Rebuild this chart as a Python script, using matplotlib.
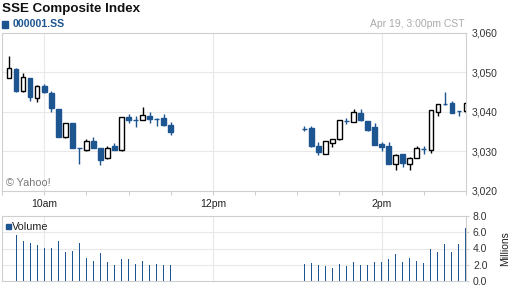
import numpy as np
import pandas as pd
import matplotlib
matplotlib.use("Agg")
import matplotlib.pyplot as plt
from matplotlib.patches import Rectangle

plt.rcParams['font.family'] = ['Liberation Sans', 'DejaVu Sans']

# Velas de 5 minutos: apertura, maximo, minimo, cierre
# Sesion de la manana (9:35 - 11:30)
am_open  = [3048.5, 3051.0, 3045.4, 3048.5, 3043.5, 3046.5, 3044.8, 3040.8, 3033.75, 3037.3, 3031.0, 3030.4,
            3032.75, 3030.8, 3028.3, 3031.4, 3030.4, 3038.8, 3038.1, 3038.0, 3039.0, 3038.25, 3038.6, 3036.8]
am_high  = [3054.3, 3051.25, 3049.8, 3048.5, 3046.9, 3047.1, 3045.25, 3040.8, 3037.3, 3037.3, 3031.0, 3033.1,
            3033.6, 3030.8, 3031.4, 3032.1, 3038.75, 3039.6, 3039.0, 3041.25, 3040.0, 3038.6, 3039.5, 3037.5]
am_low   = [3048.5, 3045.0, 3045.0, 3042.9, 3042.5, 3044.8, 3040.0, 3033.75, 3033.5, 3031.0, 3026.8, 3030.25,
            3030.8, 3026.5, 3028.2, 3030.4, 3030.25, 3037.1, 3036.2, 3038.0, 3037.25, 3036.4, 3036.5, 3034.3]
am_close = [3051.25, 3045.4, 3048.75, 3043.75, 3046.7, 3045.0, 3041.0, 3033.75, 3037.3, 3031.0, 3031.0, 3032.75,
            3031.0, 3027.9, 3031.0, 3030.4, 3038.75, 3037.9, 3038.1, 3039.3, 3038.2, 3038.25, 3036.7, 3035.0]

# Sesion de la tarde (13:05 - 15:00)
pm_open  = [3035.8, 3036.0, 3031.5, 3029.4, 3032.25, 3033.1, 3037.75, 3037.5, 3039.75, 3037.7, 3036.25, 3032.0,
            3031.5, 3026.9, 3029.25, 3026.9, 3028.25, 3030.7, 3030.4, 3040.0, 3042.0, 3042.25, 3040.3, 3040.25]
pm_high  = [3036.4, 3036.4, 3032.5, 3032.75, 3033.25, 3038.0, 3038.6, 3040.75, 3040.75, 3037.7, 3037.25, 3032.5,
            3032.5, 3029.4, 3029.4, 3028.6, 3031.4, 3031.4, 3040.5, 3042.0, 3045.0, 3042.9, 3040.3, 3042.5]
pm_low   = [3035.25, 3031.25, 3029.0, 3029.25, 3031.25, 3033.0, 3036.9, 3037.5, 3037.75, 3035.25, 3031.7, 3030.25,
            3026.9, 3025.2, 3026.2, 3025.2, 3028.25, 3029.25, 3029.5, 3039.0, 3041.8, 3039.75, 3039.0, 3039.8]
pm_close = [3035.8, 3031.5, 3029.75, 3032.75, 3033.25, 3038.0, 3037.75, 3040.0, 3037.9, 3035.5, 3031.7, 3031.25,
            3026.9, 3029.2, 3027.2, 3028.3, 3030.9, 3030.7, 3040.5, 3042.0, 3042.0, 3039.75, 3040.3, 3042.25]

# Volumen (millones); la primera vela de la manana no tiene barra
am_vol = [np.nan, 5.7, 4.96, 4.72, 4.47, 4.11, 4.11, 4.96, 3.62, 3.74, 4.72, 2.77, 2.52,
          3.5, 2.4, 1.91, 2.65, 2.65, 2.04, 2.52, 1.91, 2.04, 1.91, 1.91]
pm_vol = [2.04, 2.16, 1.91, 1.79, 1.55, 2.04, 1.79, 2.28, 1.91, 1.91, 2.4, 2.4,
          2.65, 3.38, 2.4, 2.89, 2.52, 2.16, 3.99, 3.62, 4.6, 3.62, 4.6, 6.55]

# Horas de cada vela (en horas decimales)
am_t = pd.date_range('2013-04-19 09:35', '2013-04-19 11:30', freq='5min')
pm_t = pd.date_range('2013-04-19 13:05', '2013-04-19 15:00', freq='5min')
horas = np.concatenate([am_t.hour + am_t.minute / 60, pm_t.hour + pm_t.minute / 60])

o = np.array(am_open + pm_open)
h = np.array(am_high + pm_high)
l = np.array(am_low + pm_low)
c = np.array(am_close + pm_close)
vol = np.array(am_vol + pm_vol)

azul = '#1d5591'
gris_borde = '#cfcfcf'
gris_rejilla = '#e8e8e8'

fig = plt.figure(figsize=(5.12, 2.88), dpi=100)
ax = fig.add_axes([2 / 512, 1 - 191 / 288, 464 / 512, 158 / 288])
axv = fig.add_axes([2 / 512, 1 - 281 / 288, 464 / 512, 65 / 288])

ancho = 0.055
sube = c > o
baja = ~sube
# mechas
ax.vlines(horas[sube], l[sube], h[sube], color='black', lw=1, zorder=2)
ax.vlines(horas[baja], l[baja], h[baja], color=azul, lw=1, zorder=2)
# cuerpos
ax.bar(horas[sube], c[sube] - o[sube], bottom=o[sube], width=ancho,
       color='white', edgecolor='black', lw=1, zorder=3)
ax.bar(horas[baja], c[baja] - o[baja], bottom=o[baja], width=ancho,
       color=azul, edgecolor=azul, lw=1, zorder=3)

for a in (ax, axv):
    a.set_xlim(9.5, 15)
    for s in a.spines.values():
        s.set_color(gris_borde)
        s.set_linewidth(0.8)
    for xg in (10, 12, 14):
        a.axvline(xg, color=gris_rejilla, lw=0.8, zorder=0)

ax.set_ylim(3020, 3060)
for yg in (3030, 3040, 3050):
    ax.axhline(yg, color=gris_rejilla, lw=0.8, zorder=0)
ax.yaxis.tick_right()
ax.set_yticks([3020, 3030, 3040, 3050, 3060])
ax.set_yticklabels(['3,020', '3,030', '3,040', '3,050', '3,060'])
ax.tick_params(axis='y', length=0, pad=4, labelsize=7.5, labelcolor='#333333')
marcas = np.arange(9.5, 15.01, 0.5)
nombres = {10: '10am', 12: '12pm', 14: '2pm'}
ax.set_xticks(marcas)
ax.set_xticklabels([nombres.get(t, '') for t in marcas])
ax.tick_params(axis='x', length=3, color=gris_borde, pad=3, labelsize=7.5, labelcolor='#222222')

# volumen
axv.bar(horas, vol, width=0.012, color=azul, zorder=2)
axv.set_ylim(0, 8)
for yg in (2, 4, 6):
    axv.axhline(yg, color=gris_rejilla, lw=0.8, zorder=0)
axv.yaxis.tick_right()
axv.set_yticks([0, 2, 4, 6, 8])
axv.set_yticklabels(['0.0', '2.0', '4.0', '6.0', '8.0'])
axv.tick_params(axis='y', length=2, color=gris_borde, pad=3, labelsize=7.5, labelcolor='#333333')
axv.set_xticks([])
axv.set_ylabel('Millions', fontsize=7.5, color='#222222', labelpad=9)
axv.yaxis.set_label_position('right')

# textos
fig.text(2 / 512, 1 - 9 / 288, 'SSE Composite Index', fontsize=9.6, fontweight='bold',
         color='#111111', va='center', ha='left')
fig.patches.append(Rectangle((2 / 512, 1 - 27.5 / 288), 6 / 512, 6 / 288,
                             transform=fig.transFigure, color=azul))
fig.text(12.5 / 512, 1 - 24 / 288, '000001.SS', fontsize=7.6, fontweight='bold',
         color=azul, va='center', ha='left')
fig.text(465 / 512, 1 - 24 / 288, 'Apr 19, 3:00pm CST', fontsize=7.5, color='#aaaaaa',
         va='center', ha='right')
fig.text(6 / 512, 1 - 183 / 288, '© Yahoo!', fontsize=7.8, color='#777777', va='center', ha='left')
fig.patches.append(Rectangle((6 / 512, 1 - 228.5 / 288), 4.5 / 512, 4.5 / 288,
                             transform=fig.transFigure, color=azul))
fig.text(12 / 512, 1 - 226.5 / 288, 'Volume', fontsize=7.8, color='#222222', va='center', ha='left')

fig.savefig('out.png', dpi=100)
